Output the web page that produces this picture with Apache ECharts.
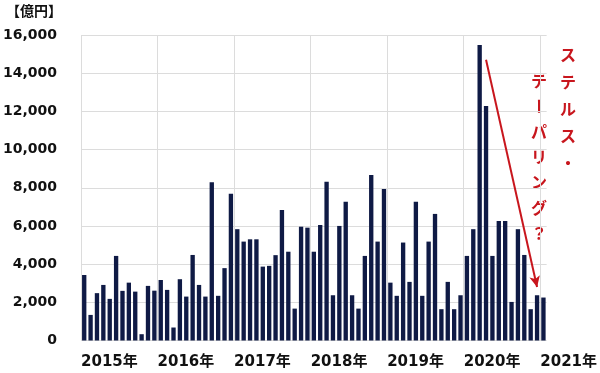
<!DOCTYPE html>
<html><head><meta charset="utf-8">
<script src="https://cdn.jsdelivr.net/npm/echarts@6/dist/echarts.min.js"></script>
<style>html,body{margin:0;padding:0;background:#fff}#c{width:600px;height:373px}</style>
</head><body><div id="c"></div>
<script>
// Monthly values (億円), Jan 2015 .. Jan 2021
const values2015 = [3430, 1340, 2480, 2910, 2180, 4430, 2600, 3030, 2560, 330, 2860, 2610];
const values2016 = [3170, 2650, 680, 3210, 2300, 4480, 2910, 2300, 8290, 2340, 3790, 7680];
const values2017 = [5830, 5180, 5300, 5300, 3870, 3910, 4470, 6840, 4650, 1670, 5960, 5910];
const values2018 = [4650, 6050, 8320, 2370, 6000, 7270, 2370, 1670, 4430, 8670, 5180, 7940];
const values2019 = [3030, 2340, 5130, 3070, 7270, 2340, 5180, 6630, 1640, 3070, 1640, 2370];
const values2020 = [4430, 5830, 15480, 12280, 4430, 6260, 6260, 2020, 5830, 4480, 1640, 2370];
const values2021 = [2250];
const years = ['2015年', '2016年', '2017年', '2018年', '2019年', '2020年', '2021年'];
const yTicks = [0, 2000, 4000, 6000, 8000, 10000, 12000, 14000, 16000];
const unitLabel = '【億円】';
const noteA = 'ステルス・';
const noteB = 'テーパリング？';
const arrowFrom = [63, 14700];
const arrowTo = [71, 2800];

const values = [].concat(values2015, values2016, values2017, values2018, values2019, values2020, values2021);
const months = values.map((v, i) => (2015 + Math.floor(i / 12)) + '-' + (i % 12 + 1));
const edges = [];
for (let i = 0; i <= values.length; i++) edges.push(i % 12 === 0 ? (years[i / 12] || '') : '');

const chart = echarts.init(document.getElementById('c'));
const red = '#c8161d';
function column(str, cx, y0, step) {
  return str.split('').map((ch, k) => ({
    type: 'text', x: cx, y: y0 + k * step,
    rotation: ch === 'ー' ? -Math.PI / 2 : 0,
    style: { text: ch, font: 'bold 16px "Noto Sans CJK JP"', fill: red, align: 'center', verticalAlign: 'middle' }
  }));
}
chart.setOption({
  animation: false,
  grid: { left: 81, right: 50, top: 35, bottom: 32.5, containLabel: false },
  xAxis: [
    { type: 'category', data: months, boundaryGap: true,
      axisLine: { show: false }, axisTick: { show: false }, axisLabel: { show: false }, splitLine: { show: false } },
    { type: 'category', data: edges, boundaryGap: false, position: 'bottom',
      axisLine: { show: false }, axisTick: { show: false },
      axisLabel: { interval: (i) => i % 12 === 0, align: 'left', margin: 14,
        fontFamily: 'DejaVu Sans, Noto Sans CJK JP', fontWeight: 'bold', fontSize: 15, color: '#111' },
      splitLine: { show: true, interval: (i) => i % 12 === 0 && i < values.length, lineStyle: { color: '#dcdcdc', width: 1 } } }
  ],
  yAxis: {
    type: 'value', min: yTicks[0], max: yTicks[yTicks.length - 1], interval: 2000,
    axisLine: { show: false }, axisTick: { show: false },
    axisLabel: { margin: 24, fontFamily: 'DejaVu Sans', fontWeight: 'bold', fontSize: 14, color: '#111',
      formatter: v => v.toLocaleString('en-US') },
    splitLine: { lineStyle: { color: '#dcdcdc', width: 1 } }
  },
  series: [{
    type: 'bar', xAxisIndex: 0, data: values, barWidth: '68%',
    itemStyle: { color: '#0f1a45' },
    markLine: {
      silent: true, symbol: ['none', 'arrow'], symbolSize: [8, 11],
      label: { show: false },
      lineStyle: { color: red, width: 2, type: 'solid' },
      data: [[{ coord: arrowFrom }, { coord: arrowTo }]]
    }
  }],
  graphic: [
    { type: 'text', left: 6, top: 4, style: { text: unitLabel, font: 'bold 14px "Noto Sans CJK JP"', fill: '#111' } }
  ].concat(column(noteA, 568, 55, 27), column(noteB, 539, 81, 25.3))
});
</script></body></html>
